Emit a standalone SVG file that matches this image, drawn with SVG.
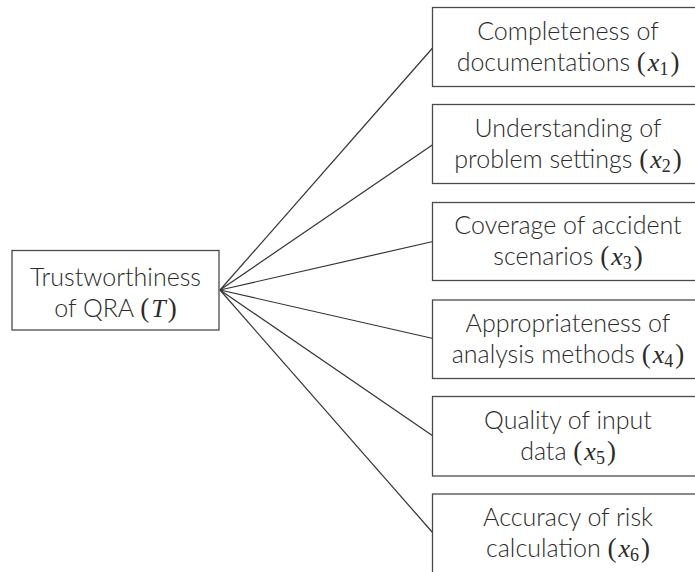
<svg xmlns="http://www.w3.org/2000/svg" width="695" height="572" viewBox="0 0 695 572">
<style>
.box{fill:#fff;stroke:#4a4a4a;stroke-width:1.3}
.t{font-family:Lato,"Open Sans","Liberation Sans",sans-serif;font-size:25px;font-weight:300;fill:#2b2b2b;text-anchor:middle}
.m{font-family:"Liberation Serif","DejaVu Serif",serif;font-style:italic;font-size:26px}
.p{font-family:"Liberation Serif","DejaVu Serif",serif;font-size:27px}
.s{font-family:"Liberation Serif","DejaVu Serif",serif;font-size:18px}
.c{stroke:#333;stroke-width:1.2;fill:none}
</style>
<rect width="695" height="572" fill="#fff"/>
<g id="connectors">
<line class="c" x1="220" y1="290" x2="433" y2="47.5"/>
<line class="c" x1="220" y1="290" x2="433" y2="144.5"/>
<line class="c" x1="220" y1="290" x2="433" y2="241.5"/>
<line class="c" x1="220" y1="290" x2="433" y2="338.5"/>
<line class="c" x1="220" y1="290" x2="433" y2="436"/>
<line class="c" x1="220" y1="290" x2="433" y2="533"/>
</g>
<g id="T">
<rect class="box" x="12" y="250.5" width="207" height="79.5"/>
<text class="t" x="115.5" y="286">Trustworthiness</text>
<text class="t" x="115.5" y="317">of QRA <tspan class="p">(</tspan><tspan class="m" dx="2">T</tspan><tspan class="p" dx="2">)</tspan></text>
</g>
<g id="x1">
<rect class="box" x="432.5" y="7.5" width="280" height="79"/>
<text class="t" x="568" y="40">Completeness of</text>
<text class="t" x="568" y="71">documentations <tspan class="p">(</tspan><tspan class="m" dx="2">x</tspan><tspan class="s" dy="4">1</tspan><tspan class="p" dx="2" dy="-4">)</tspan></text>
</g>
<g id="x2">
<rect class="box" x="432.5" y="104.5" width="280" height="79"/>
<text class="t" x="568" y="137">Understanding of</text>
<text class="t" x="568" y="168">problem settings <tspan class="p">(</tspan><tspan class="m" dx="2">x</tspan><tspan class="s" dy="4">2</tspan><tspan class="p" dx="2" dy="-4">)</tspan></text>
</g>
<g id="x3">
<rect class="box" x="432.5" y="202.5" width="280" height="78"/>
<text class="t" x="568" y="234">Coverage of accident</text>
<text class="t" x="568" y="265">scenarios <tspan class="p">(</tspan><tspan class="m" dx="2">x</tspan><tspan class="s" dy="4">3</tspan><tspan class="p" dx="2" dy="-4">)</tspan></text>
</g>
<g id="x4">
<rect class="box" x="432.5" y="300" width="280" height="78.5"/>
<text class="t" x="568" y="332">Appropriateness of</text>
<text class="t" x="568" y="363">analysis methods <tspan class="p">(</tspan><tspan class="m" dx="2">x</tspan><tspan class="s" dy="4">4</tspan><tspan class="p" dx="2" dy="-4">)</tspan></text>
</g>
<g id="x5">
<rect class="box" x="432.5" y="396.5" width="280" height="79.5"/>
<text class="t" x="568" y="429">Quality of input</text>
<text class="t" x="568" y="460">data <tspan class="p">(</tspan><tspan class="m" dx="2">x</tspan><tspan class="s" dy="4">5</tspan><tspan class="p" dx="2" dy="-4">)</tspan></text>
</g>
<g id="x6">
<rect class="box" x="432.5" y="494" width="280" height="90"/>
<text class="t" x="568" y="526">Accuracy of risk</text>
<text class="t" x="568" y="557">calculation <tspan class="p">(</tspan><tspan class="m" dx="2">x</tspan><tspan class="s" dy="4">6</tspan><tspan class="p" dx="2" dy="-4">)</tspan></text>
</g>
</svg>
